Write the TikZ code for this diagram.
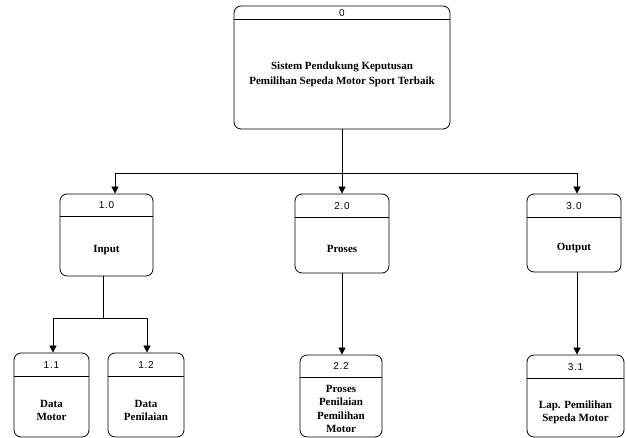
\documentclass[tikz,border=0pt]{standalone}
\usepackage{fontspec}
\setmainfont{Liberation Serif}
\newfontfamily\hdrfont[LetterSpace=8]{Liberation Sans}
\usetikzlibrary{arrows.meta}
\tikzset{
  boxst/.style={draw, line width=0.8pt, rounded corners=7pt, inner sep=0pt},
  hdrst/.style={font=\hdrfont\fontsize{10}{12}\selectfont, inner sep=0pt},
  bigtext/.style={font=\fontsize{11}{15}\selectfont\bfseries, align=center, inner sep=0pt},
  smalltext/.style={font=\fontsize{11}{13.3}\selectfont\bfseries, align=center, inner sep=0pt},
  conn/.style={line width=0.8pt},
  arr/.style={line width=0.8pt, -{Triangle[width=7pt,length=7pt]}}
}
% name, left, top, right, bottom, header y, number, text, text style
\newcommand\pbox[9]{%
  \node[boxst, minimum width={#4-#2}, minimum height={#5-#3}] (#1) at ({(#2+#4)/2},{(#3+#5)/2}) {};
  \draw[line width=0.8pt] (#2,#6) -- (#4,#6);
  \node[hdrst] (#1n) at ({(#2+#4)/2},{(#3+#6)/2+0.5}) {#7};
  \node[#9] (#1t) at ({(#2+#4)/2},{(#6+#5)/2}) {#8};
}
\begin{document}
\begin{tikzpicture}[x=1pt,y=-1pt]
\useasboundingbox (0,0) rectangle (627,438);
\pbox{b0}{234}{6}{450}{129}{19}{0}{Sistem Pendukung Keputusan\\Pemilihan Sepeda Motor Sport Terbaik}{bigtext}
\pbox{b10}{60}{194}{153}{276}{216}{1.0}{Input}{bigtext,yshift=-4pt}
\pbox{b20}{295}{194}{389}{273}{217}{2.0}{Proses}{bigtext,yshift=-4pt}
\pbox{b30}{527}{194}{621}{272}{217}{3.0}{Output}{bigtext,yshift=-4pt}
\pbox{b11}{14}{353}{89}{437}{376}{1.1}{Data\\Motor}{smalltext,yshift=-4pt}
\pbox{b12}{108}{353}{184}{437}{376}{1.2}{Data\\Penilaian}{smalltext,yshift=-4pt}
\pbox{b22}{300}{355}{382}{437}{377}{2.2}{Proses\\Penilaian\\Pemilihan\\Motor}{smalltext,yshift=-2pt}
\pbox{b31}{527}{355}{624}{437}{378}{3.1}{Lap. Pemilihan\\Sepeda Motor}{smalltext,yshift=-5pt}
% connectors level 0 -> 1
\coordinate (j0) at (342,173);
\coordinate (jl) at (115,173);
\coordinate (jr) at (577,173);
\draw[conn] (b0.south) -- (j0);
\draw[conn] (jl) -- (jr);
\draw[arr] (jl) -- (jl |- b10.north);
\draw[arr] (j0) -- (j0 |- b20.north);
\draw[arr] (jr) -- (jr |- b30.north);
% 1.0 -> 1.1, 1.2
\coordinate (k0) at (103,318);
\coordinate (kl) at (53,318);
\coordinate (kr) at (147,318);
\draw[conn] (k0 |- b10.south) -- (k0);
\draw[conn] (kl) -- (kr);
\draw[arr] (kl) -- (kl |- b11.north);
\draw[arr] (kr) -- (kr |- b12.north);
% 2.0 -> 2.2
\draw[arr] (j0 |- b20.south) -- (j0 |- b22.north);
% 3.0 -> 3.1
\draw[arr] (jr |- b30.south) -- (jr |- b31.north);
\end{tikzpicture}
\end{document}
